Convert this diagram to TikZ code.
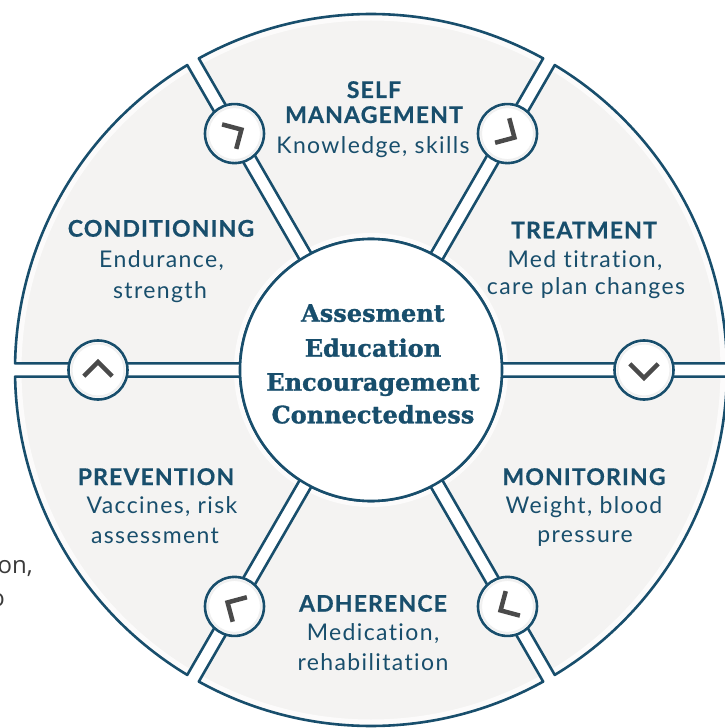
\documentclass[tikz,border=0pt]{standalone}
\usepackage{fontspec}
\setmainfont{Lato}
\newfontfamily\bodyfont[LetterSpace=6, Ligatures=NoCommon]{Lato}
\newfontfamily\headfont[LetterSpace=5, Ligatures=NoCommon, FakeBold=0.6]{Lato}
\newfontfamily\ctrfont[FakeBold=1.2]{DejaVu Serif}
\newfontfamily\sidefont{Open Sans}
\usetikzlibrary{calc}
\definecolor{cblue}{HTML}{184E6C}
\definecolor{cgray}{HTML}{F4F3F2}
\definecolor{cchev}{HTML}{4A4A4A}
\definecolor{cside}{HTML}{3A3A3A}
\tikzset{
  secfill/.style={fill=cgray},
  secline/.style={draw=cblue, line width=2.6pt, line join=round},
  hub/.style={circle, fill=white, draw=cblue, line width=2.6pt, minimum size=59pt, inner sep=0pt},
  chev/.style={draw=cchev, line width=4.5pt, line cap=butt, line join=miter},
  head/.style={font=\headfont\bfseries\fontsize{23}{25}\selectfont, text=cblue, anchor=base, inner sep=0pt},
  body/.style={font=\bodyfont\fontsize{23}{29}\selectfont, text=cblue, anchor=base, inner sep=0pt},
  ctr/.style={font=\ctrfont\bfseries\fontsize{24}{34}\selectfont, text=cblue, anchor=base, inner sep=0pt},
  side/.style={font=\sidefont\fontsize{24}{30}\selectfont, text=cside, anchor=base east, inner sep=0pt},
}
\begin{document}
\begin{tikzpicture}[x=1pt,y=1pt]
\useasboundingbox (-371,-358) rectangle (354,370);
\def\R{356}\def\rc{131}\def\hg{6.7}
\pgfmathsetmacro\ao{asin(\hg/\R)}
\pgfmathsetmacro\ai{asin(\hg/\rc)}
% sector fills
\foreach \a in {0,60,...,300}{
  \pgfmathsetmacro\sa{\a+\ao}\pgfmathsetmacro\ea{\a+60-\ao}
  \pgfmathsetmacro\si{\a+60-\ai}\pgfmathsetmacro\ei{\a+\ai}
  \fill[secfill] (\sa:\R pt) arc[start angle=\sa, end angle=\ea, radius=\R pt]
     -- (\si:\rc pt) arc[start angle=\si, end angle=\ei, radius=\rc pt] -- cycle;
}
% soft white glow inside outer edge and around hub
\fill[white, fill opacity=0.75, even odd rule] (0,0) circle[radius=355pt] (0,0) circle[radius=349.5pt];
\fill[white, fill opacity=0.75, even odd rule] (0,0) circle[radius=137pt] (0,0) circle[radius=131pt];
% sector outlines
\foreach \a in {0,60,...,300}{
  \pgfmathsetmacro\sa{\a+\ao}\pgfmathsetmacro\ea{\a+60-\ao}
  \pgfmathsetmacro\si{\a+60-\ai}\pgfmathsetmacro\ei{\a+\ai}
  \draw[secline] (\sa:\R pt) arc[start angle=\sa, end angle=\ea, radius=\R pt]
     -- (\si:\rc pt) arc[start angle=\si, end angle=\ei, radius=\rc pt] -- cycle;
}
% centre circle
\node[circle, fill=white, draw=cblue, line width=2.6pt, minimum size=262pt, inner sep=0pt] (core) at (0,0) {};
\node[ctr] (c1) at (2,48.3) {Assesment};
\node[ctr] (c2) at (2,13.3) {Education};
\node[ctr] (c3) at (2,-20.7) {Encouragement};
\node[ctr] (c4) at (2,-53.3) {Connectedness};
% small circles with chevrons
\foreach \a [count=\i] in {0,60,...,300}{
  \node[hub] (h\i) at (\a:273pt) {};
  \draw[gray!12, line width=2pt] (h\i.center) circle[radius=26.5pt];
  \pgfmathsetmacro\ph{\a-90}
  \pgfmathsetmacro\pa{\ph+135}\pgfmathsetmacro\pb{\ph-135}
  \coordinate (ap\i) at ([shift={(\ph:8pt)}]h\i.center);
  \draw[chev] ([shift={(\pa:20pt)}]ap\i) -- (ap\i) -- ([shift={(\pb:20pt)}]ap\i);
}
% labels
\node[head] (s1) at (3,272) {SELF};
\node[head] (s2) at (3,247) {MANAGEMENT};
\node[body] (s3) at (2,216) {Knowledge, skills};
\node[head] (t1) at (213,131.7) {TREATMENT};
\node[body] (t2) at (214,102) {Med titration,};
\node[body] (t3) at (215,75) {care plan changes};
\node[head] (k1) at (-210,133.3) {CONDITIONING};
\node[body] (k2) at (-209.5,102) {Endurance,};
\node[body] (k3) at (-211,71) {strength};
\node[head] (p1) at (-215,-115) {PREVENTION};
\node[body] (p2) at (-209,-143) {Vaccines, risk};
\node[body] (p3) at (-216,-173) {assessment};
\node[head] (m1) at (213,-115) {MONITORING};
\node[body] (m2) at (213,-143) {Weight, blood};
\node[body] (m3) at (214,-172) {pressure};
\node[head] (a1) at (2,-241.7) {ADHERENCE};
\node[body] (a2) at (2,-270) {Medication,};
\node[body] (a3) at (2,-300) {rehabilitation};
% clipped fragments of neighbouring text
\begin{scope}
\clip (-371,-358) rectangle (354,370);
\node[side] (f1) at (-338,-203) {on,};
\node[side] (f2) at (-366,-236) {o};
\end{scope}
\end{tikzpicture}
\end{document}
